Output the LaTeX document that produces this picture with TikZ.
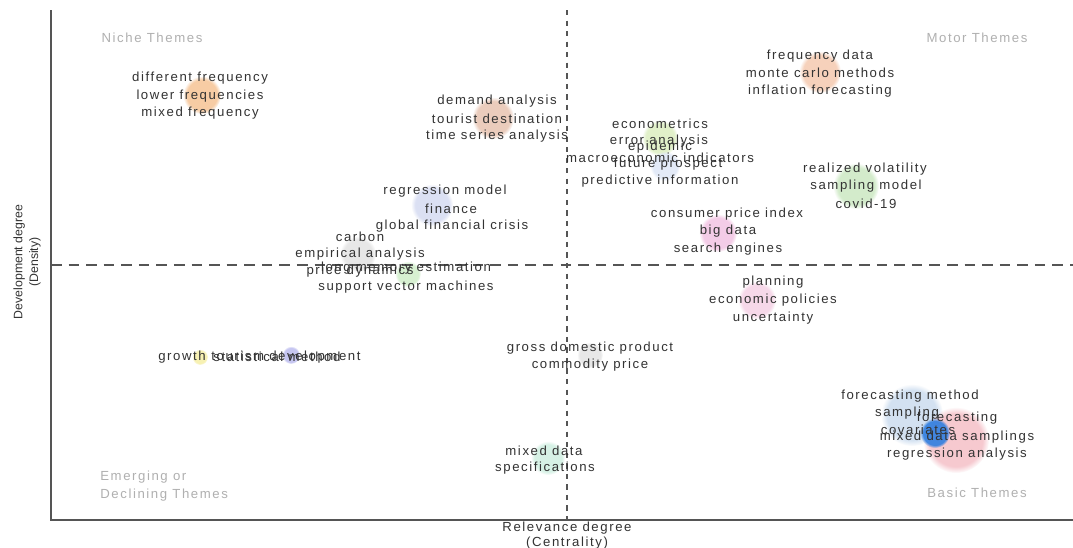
\documentclass[tikz,border=0pt]{standalone}
\usepackage{fontspec}
\setmainfont{Liberation Sans}[LetterSpace=12]
\newfontfamily\axisfont{Liberation Sans}
\usetikzlibrary{positioning, fadings}

\definecolor{txt}{HTML}{333333}
\definecolor{quad}{HTML}{B0B0B0}
\definecolor{axis}{HTML}{555555}
% cluster colours
\definecolor{cOrange}{HTML}{F5C08E}
\definecolor{cBrown}{HTML}{E6C0AC}
\definecolor{cSalmon}{HTML}{F4C6AA}
\definecolor{cLime}{HTML}{DAEDBC}
\definecolor{cSky}{HTML}{DCE5F5}
\definecolor{cGreen}{HTML}{C8E7BE}
\definecolor{cPink}{HTML}{F1C0E1}
\definecolor{cLav}{HTML}{D3D9F1}
\definecolor{cGray}{HTML}{E2E2E2}
\definecolor{cMint}{HTML}{CDEDC6}
\definecolor{cRose}{HTML}{F4CFE4}
\definecolor{cYellow}{HTML}{F5EEA0}
\definecolor{cViolet}{HTML}{B8B8EE}
\definecolor{cTeal}{HTML}{CCEEDF}
\definecolor{cSteel}{HTML}{C8DAEE}
\definecolor{cRed}{HTML}{F4BCC4}
\definecolor{cBlue}{HTML}{2F7EE0}

\tikzset{
  lbl/.style={inner sep=0pt, text=txt, font=\fontsize{7.5}{9}\selectfont},
  quadlbl/.style={lbl, text=quad, align=left, font=\fontsize{7.5}{10.5}\selectfont},
  bubble/.style={circle, inner sep=0pt, minimum size=#1*0.04cm, fill opacity=0.8,
    path fading=circle with fuzzy edge 20 percent},
  axislbl/.style={inner sep=0pt, text=txt, font=\axisfont\fontsize{7}{9}\selectfont, align=center},
}

\begin{document}
\begin{tikzpicture}[x=0.02cm, y=-0.02cm]
  \useasboundingbox [fill=white] (0,0) rectangle (1073,548);

  % bubbles
  \node (b1) [bubble=19, fill=cOrange] at (202,95) {};
  \node (b2) [bubble=21, fill=cBrown] at (493,118) {};
  \node (b3) [bubble=21, fill=cSalmon] at (820,72) {};
  \node (b4) [bubble=18, fill=cLime] at (660,138) {};
  \node (b5) [bubble=15, fill=cSky] at (665,166) {};
  \node (b6) [bubble=23, fill=cGreen] at (856,186) {};
  \node (b7) [bubble=19, fill=cPink] at (718,233) {};
  \node (b8) [bubble=21, fill=cLav] at (432,205) {};
  \node (b9) [bubble=18, fill=cGray] at (358,254) {};
  \node (b10) [bubble=13, fill=cMint] at (408,274) {};
  \node (b11) [bubble=19, fill=cRose] at (757,300) {};
  \node (b12) [bubble=13, fill=cGray] at (590,355) {};
  \node (b13) [bubble=8, fill=cYellow] at (200,357) {};
  \node (b14) [bubble=9, fill=cViolet] at (291,355) {};
  \node (b15) [bubble=17, fill=cTeal] at (548,458) {};
  \node (b16) [bubble=31, fill=cSteel] at (912,415) {};
  \node (b17) [bubble=33, fill=cRed] at (956,440) {};
  \node (b18) [bubble=15, fill=cBlue, fill opacity=0.9] at (935,433) {};

  % axes and quadrant borders
  \coordinate (ytop) at (51,10);
  \coordinate (orig) at (51,520);
  \coordinate (xend) at (1073,520);
  \coordinate (vtop) at (567,10);
  \coordinate (vbot) at (567,520);
  \coordinate (hleft) at (51,265);
  \coordinate (hright) at (1073,265);
  \draw [axis, dash pattern=on 6pt off 4pt, line width=0.6pt] (hleft) -- (hright);
  \draw [axis, dash pattern=on 3pt off 3pt, line width=0.6pt] (vtop) -- (vbot);
  \draw [axis, line width=1pt] (ytop) -- (orig) -- (xend);

  % quadrant names
  \node (niche) [quadlbl] at (152,38) {Niche Themes};
  \node (motor) [quadlbl] at (977,38) {Motor Themes};
  \node (emerg) [quadlbl, anchor=west] at (100,486) {Emerging or\\Declining Themes};
  \node (basic) [quadlbl] at (977,493) {Basic Themes};

  % cluster labels
  \node (l1a) [lbl] at (200,78) {different frequency};
  \node (l1b) [lbl] at (200,96) {lower frequencies};
  \node (l1c) [lbl] at (200,113) {mixed frequency};

  \node (l2a) [lbl] at (497,101) {demand analysis};
  \node (l2b) [lbl] at (497,119) {tourist destination};
  \node (l2c) [lbl] at (497,136) {time series analysis};

  \node (l3a) [lbl] at (820,56) {frequency data};
  \node (l3b) [lbl] at (820,73) {monte carlo methods};
  \node (l3c) [lbl] at (820,91) {inflation forecasting};

  \node (l4a) [lbl] at (660,124) {econometrics};
  \node (l4b) [lbl] at (659,141) {error analysis};
  \node (l4c) [lbl] at (660,158) {macroeconomic indicators};
  \node (l5a) [lbl] at (660,147) {epidemic};
  \node (l5b) [lbl] at (668,164) {future prospect};
  \node (l5c) [lbl] at (660,181) {predictive information};

  \node (l6a) [lbl] at (865,169) {realized volatility};
  \node (l6b) [lbl] at (866,186) {sampling model};
  \node (l6c) [lbl] at (866,204) {covid-19};

  \node (l7a) [lbl] at (727,214) {consumer price index};
  \node (l7b) [lbl] at (728,231) {big data};
  \node (l7c) [lbl] at (728,249) {search engines};

  \node (l8a) [lbl] at (445,191) {regression model};
  \node (l8b) [lbl] at (451,209) {finance};
  \node (l8c) [lbl] at (452,226) {global financial crisis};

  \node (l9a) [lbl] at (360,237) {carbon};
  \node (l9b) [lbl] at (360,254) {empirical analysis};
  \node (l9c) [lbl] at (360,271) {price dynamics};
  \node (l10a) [lbl] at (406,268) {long memory estimation};
  \node (l10b) [lbl] at (406,287) {support vector machines};

  \node (l11a) [lbl] at (773,282) {planning};
  \node (l11b) [lbl] at (773,300) {economic policies};
  \node (l11c) [lbl] at (773,318) {uncertainty};

  \node (l12a) [lbl] at (590,348) {gross domestic product};
  \node (l12b) [lbl] at (590,365) {commodity price};

  \node (l13) [lbl, anchor=west] at (158,357) {growth};
  \node (l14a) [lbl, anchor=west] at (211,357) {tourism development};
  \node (l14b) [lbl, anchor=west] at (213,357) {statistical method};

  \node (l15a) [lbl] at (544,451) {mixed data};
  \node (l15b) [lbl] at (545,468) {specifications};

  \node (l16a) [lbl] at (910,396) {forecasting method};
  \node (l16b) [lbl] at (907,413) {sampling};
  \node (l16c) [lbl] at (918,430) {covariates};
  \node (l17a) [lbl] at (957,418) {forecasting};
  \node (l17b) [lbl] at (957,437) {mixed data samplings};
  \node (l17c) [lbl] at (957,454) {regression analysis};

  % axis titles
  \node (xlbl) [axislbl, font=\fontsize{7.5}{8.5}\selectfont] at (567,536) {Relevance degree\\(Centrality)};
  \node (ylbl) [axislbl, rotate=90] at (27,262) {Development degree\\(Density)};
\end{tikzpicture}
\end{document}
